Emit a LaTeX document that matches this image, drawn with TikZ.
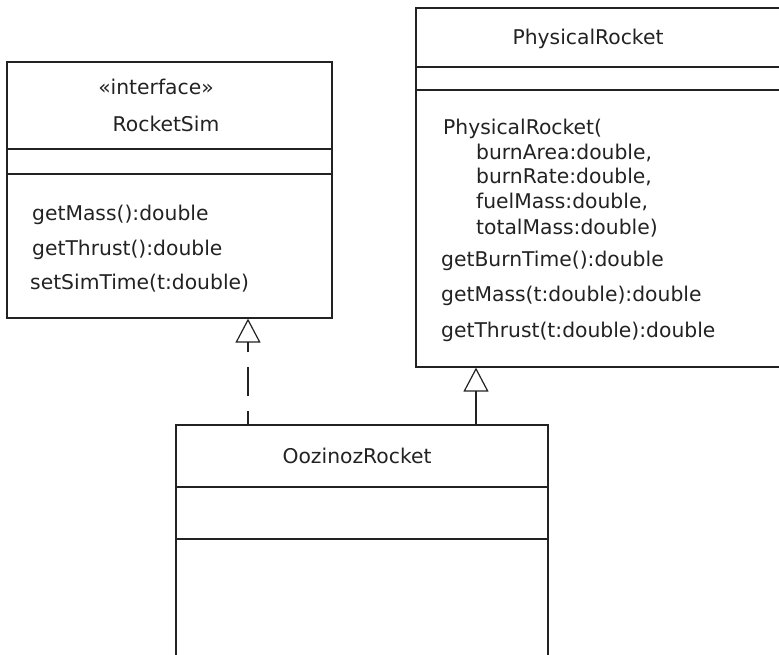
\documentclass[tikz,border=0pt]{standalone}
\usepackage{fontspec}
\setmainfont{DejaVu Sans}
\usetikzlibrary{arrows.meta}
\definecolor{ink}{HTML}{222222}
\tikzset{
  classbox/.style={draw=ink, line width=1.2pt, rectangle, inner sep=0pt},
  lbl/.style={inner sep=0pt, text=ink, font=\fontsize{20.3}{23}\selectfont},
  mlbl/.style={lbl, anchor=base west},
  clbl/.style={lbl, anchor=base},
  sep/.style={draw=ink, line width=1.2pt},
  gen/.style={draw=ink, line width=1.2pt, -{Triangle[open, length=24pt, width=25pt]}},
  realize/.style={gen, dash pattern=on 29pt off 15pt, dash phase=16pt},
}
\begin{document}
\begin{tikzpicture}[x=1pt, y=-1pt]
\useasboundingbox (0,0) rectangle (779,655);
\clip (0,0) rectangle (779,655);
% RocketSim
\node[classbox, minimum width=325pt, minimum height=256pt] (rs) at (169.5,190) {};
\draw[sep] (7,149) -- (332,149);
\draw[sep] (7,174) -- (332,174);
\node[clbl] (rsst) at (156,95) {«interface»};
\node[clbl] (rsname) at (166,132) {RocketSim};
\node[mlbl] (rsm1) at (32,221) {getMass():double};
\node[mlbl] (rsm2) at (32,255) {getThrust():double};
\node[mlbl] (rsm3) at (30,289) {setSimTime(t:double)};
% PhysicalRocket
\node[classbox, minimum width=384pt, minimum height=359pt] (pr) at (608,187.5) {};
\draw[sep] (416,67) -- (800,67);
\draw[sep] (416,90) -- (800,90);
\node[clbl] (prname) at (588,45) {PhysicalRocket};
\node[mlbl] (prc) at (443,135) {PhysicalRocket(};
\node[mlbl] (pra1) at (476,160) {burnArea:double,};
\node[mlbl] (pra2) at (476,184) {burnRate:double,};
\node[mlbl] (pra3) at (476,209) {fuelMass:double,};
\node[mlbl] (pra4) at (476,234) {totalMass:double)};
\node[mlbl] (prm1) at (441,266) {getBurnTime():double};
\node[mlbl] (prm2) at (441,301) {getMass(t:double):double};
\node[mlbl] (prm3) at (441,337) {getThrust(t:double):double};
% OozinozRocket
\node[classbox, minimum width=372pt, minimum height=275pt] (oz) at (362,562.5) {};
\draw[sep] (176,487) -- (548,487);
\draw[sep] (176,539) -- (548,539);
\node[clbl] (ozname) at (357,463) {OozinozRocket};
% connectors
\coordinate (ra) at (248,0);
\coordinate (ga) at (476,0);
\draw[realize] (ra |- oz.north) -- (ra |- rs.south);
\draw[gen] (ga |- oz.north) -- (ga |- pr.south);
\end{tikzpicture}
\end{document}
